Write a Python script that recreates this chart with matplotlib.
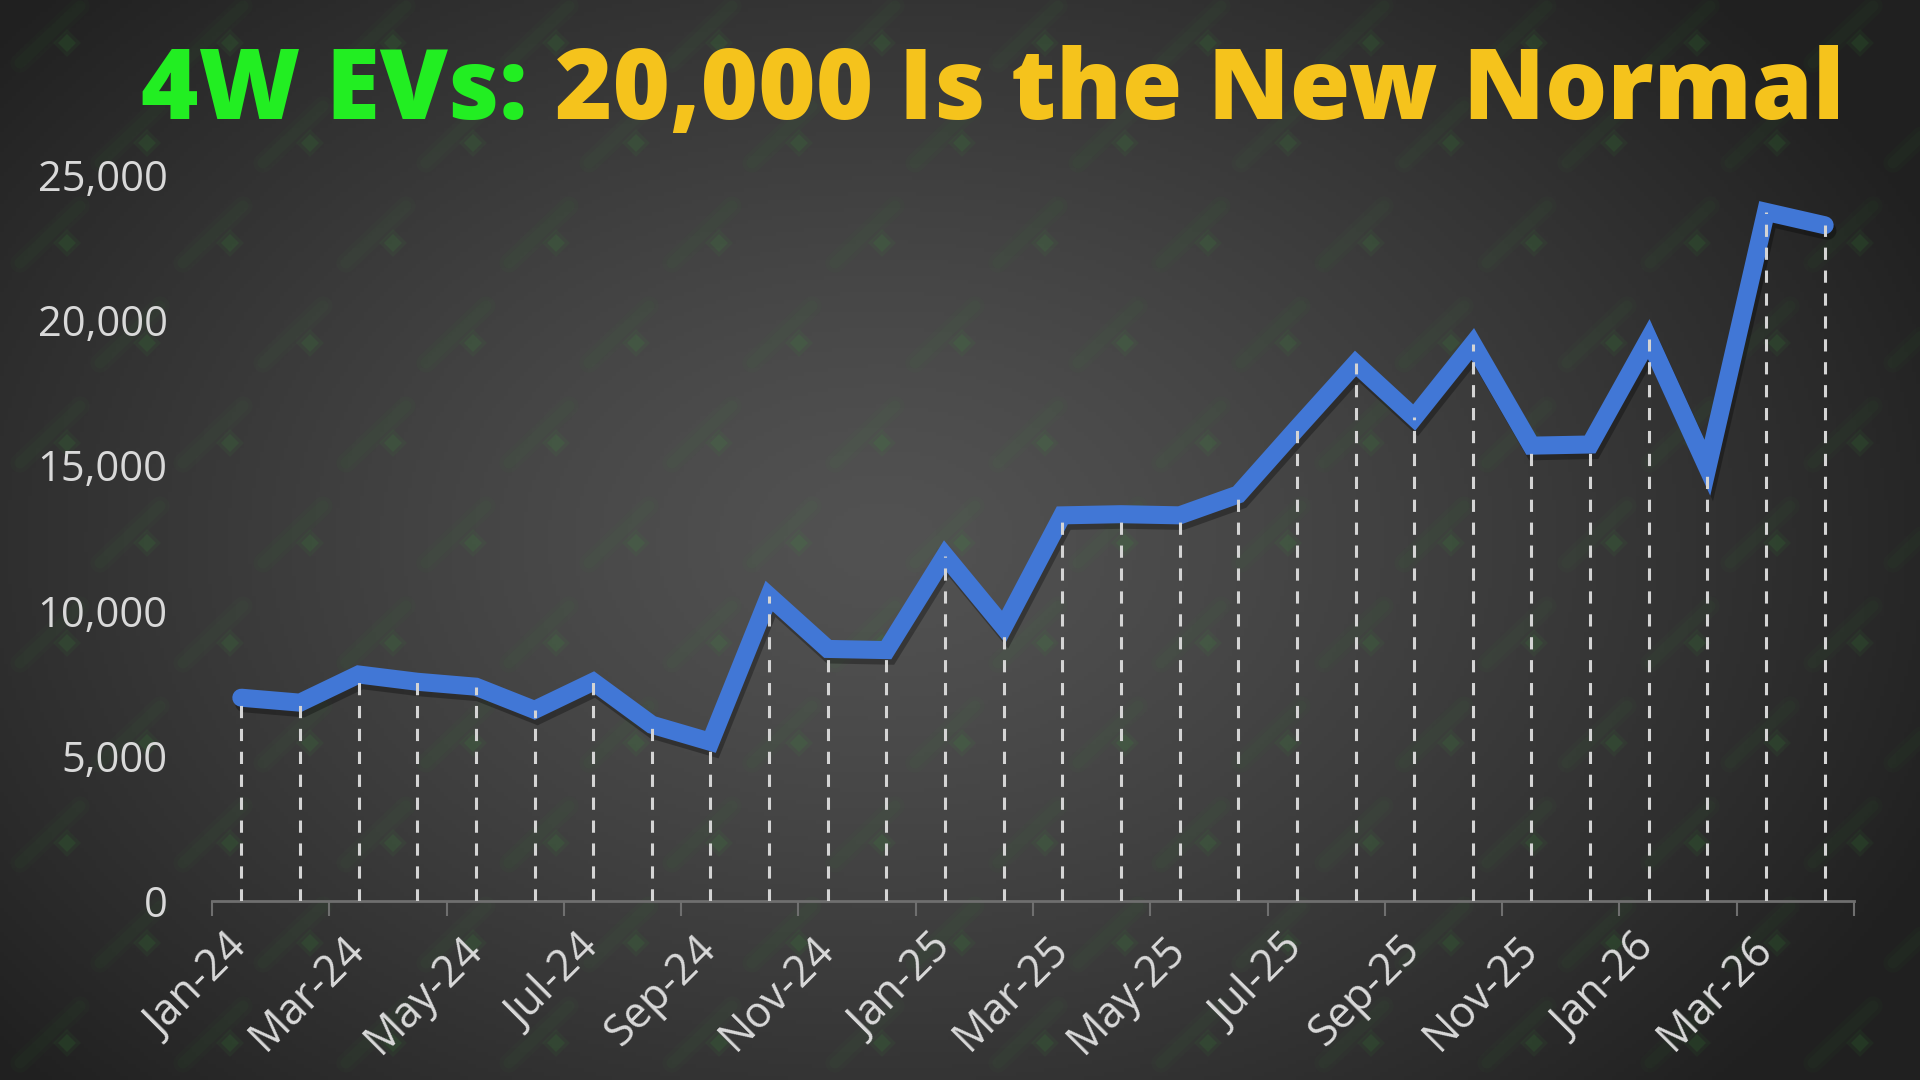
import numpy as np
import matplotlib.pyplot as plt
import matplotlib.patheffects as pe
from matplotlib.ticker import FuncFormatter

months = ['Jan-24', 'Feb-24', 'Mar-24', 'Apr-24', 'May-24', 'Jun-24', 'Jul-24',
          'Aug-24', 'Sep-24', 'Oct-24', 'Nov-24', 'Dec-24', 'Jan-25', 'Feb-25',
          'Mar-25', 'Apr-25', 'May-25', 'Jun-25', 'Jul-25', 'Aug-25', 'Sep-25',
          'Oct-25', 'Nov-25', 'Dec-25', 'Jan-26', 'Feb-26', 'Mar-26', 'Apr-26']
sales = [7000, 6830, 7800, 7550, 7380, 6580, 7550, 6070, 5480, 10500, 8680, 8640,
         11890, 9440, 13280, 13320, 13280, 14000, 16270, 18510, 16650, 19180,
         15680, 15720, 19350, 14920, 23730, 23270]
yticks = [0, 5000, 10000, 15000, 20000, 25000]

title_a = '4W EVs:'
title_b = '20,000 Is the New Normal'

fig = plt.figure(figsize=(19.2, 10.8), dpi=100)

# background: dark radial gradient + faint green watermark
bg = fig.add_axes([0, 0, 1, 1], zorder=-10)
bg.set_xlim(0, 1920)
bg.set_ylim(1080, 0)
bg.axis('off')
yy, xx = np.mgrid[0:1080:4, 0:1920:4]
r = np.sqrt(((xx - 880) / 1150) ** 2 + ((yy - 540) / 800) ** 2)
shade = (0x52 - (0x52 - 0x20) * np.clip(r, 0, 1) ** 1.3) / 255
bg.imshow(np.dstack([shade] * 3), extent=(0, 1920, 1080, 0), aspect='auto')
for k in range(-1, 12):
    cy = 43 + 100 * k
    off = 67 if k % 2 == 0 else 147
    for m in range(-1, 13):
        cx = off + 163 * m
        # soft streak: a few wide, very faint strokes
        for lw, a in [(14, 0.03), (8, 0.04)]:
            bg.plot([cx - 47, cx + 13], [cy + 20, cy - 37], color='#3aa03a',
                    alpha=a, lw=lw, solid_capstyle='round')
        bg.plot(cx, cy, marker='D', ms=14, color='#3aa03a', alpha=0.07, mew=0)
        bg.plot(cx, cy, marker='D', ms=9, color='#3aa03a', alpha=0.12, mew=0)

# chart
ax = fig.add_axes([212 / 1920, 1 - 901 / 1080, (1854 - 212) / 1920, (901 - 175) / 1080])
ax.patch.set_alpha(0)
x = np.arange(len(months))
ax.vlines(x, 0, sales, colors='#d4d4d4', linewidth=2.2, linestyles=(0, (4, 3.5)), zorder=4)
ax.plot(x, sales, color='#4177d6', lw=13, solid_capstyle='round', solid_joinstyle='miter',
        zorder=3, path_effects=[pe.SimpleLineShadow(offset=(2, -4), shadow_color='black', alpha=0.3),
                                pe.Normal()])
ax.set_xlim(-0.5, len(months) - 0.5)
ax.set_ylim(0, 25000)
ax.set_yticks(yticks)
ax.yaxis.set_major_formatter(FuncFormatter(lambda v, p: f'{v:,.0f}'))
ax.tick_params(axis='y', length=0, pad=32, labelsize=30, labelcolor='#d9d9d9')
for lab in ax.get_yticklabels():
    lab.set_family('Open Sans')

ax.set_xticks(np.arange(-0.5, len(months), 2))
ax.set_xticks(x[::2], minor=True)
ax.set_xticklabels(months[::2], minor=True)
ax.tick_params(axis='x', which='major', length=11, width=1.5, color='#6f6f6f', labelbottom=False)
ax.tick_params(axis='x', which='minor', length=0, pad=30, labelsize=31, labelcolor='#d9d9d9')
for lab in ax.get_xticklabels(minor=True):
    lab.set_rotation(45)
    lab.set_ha('right')
    lab.set_va('center')
    lab.set_rotation_mode('anchor')
    lab.set_family('Open Sans')

for s in ['top', 'right', 'left']:
    ax.spines[s].set_visible(False)
ax.spines['bottom'].set_color('#6f6f6f')
ax.spines['bottom'].set_linewidth(2)

# title in two colours, sized to span the same width as the reference
fs = 64
t1 = fig.text(141 / 1920, 1 - 119 / 1080, title_a, color='#22ee22', fontsize=fs,
              fontweight='heavy', family='Open Sans', va='baseline')
fig.canvas.draw()
rend = fig.canvas.get_renderer()
w1 = t1.get_window_extent(rend).width
t2 = fig.text(0, 1 - 119 / 1080, title_b, color='#f5c31c', fontsize=fs,
              fontweight='heavy', family='Open Sans', va='baseline')
w2 = t2.get_window_extent(rend).width
gap = 0.28 * fs * 100 / 72
fs = fs * 1702 / (w1 + gap + w2)
t1.set_fontsize(fs)
t2.set_fontsize(fs)
fig.canvas.draw()
b1 = t1.get_window_extent(rend)
t2.set_x((b1.x1 + 0.28 * fs * 100 / 72) / 1920)

fig.savefig('out.png', dpi=100)
